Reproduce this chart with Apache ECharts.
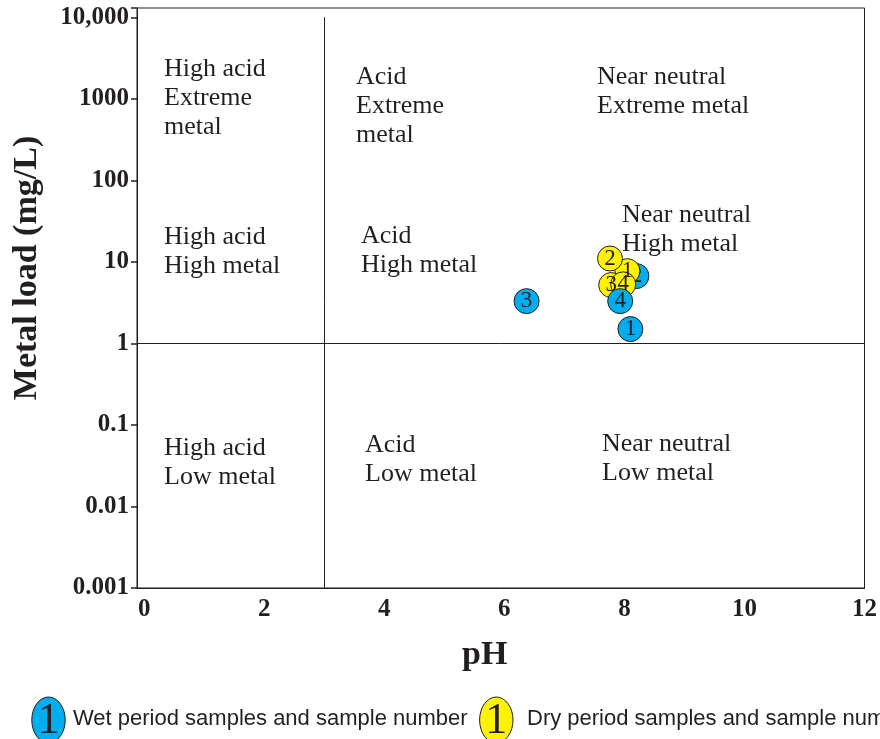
<!DOCTYPE html>
<html><head><meta charset="utf-8">
<script src="https://cdn.jsdelivr.net/npm/echarts@6/dist/echarts.min.js"></script>
<style>html,body{margin:0;padding:0;background:#fff}#c{width:880px;height:739px}</style>
</head><body><div id="c"></div>
<script>
// ---- data ----
const wetSampleIds = [1, 2, 3, 4];
const wetPH = [8.1, 8.2, 6.37, 7.93];
const wetMetal = [1.5, 6.7, 3.3, 3.3];
const drySampleIds = [1, 2, 3, 4];
const dryPH = [8.05, 7.76, 7.78, 7.98];
const dryMetal = [7.7, 11, 5.2, 5.3];
const xTickValues = [0, 2, 4, 6, 8, 10, 12];
const yTickExponents = [-3, -2, -1, 0, 1, 2, 3, 4];
const yTickLabels = ['0.001', '0.01', '0.1', '1', '10', '100', '1000', '10,000'];
const phBoundary = 3;
const metalBoundary = 1;
const quadrantTexts = [
  'High acid\nExtreme\nmetal', 'Acid\nExtreme\nmetal', 'Near neutral\nExtreme metal',
  'High acid\nHigh metal', 'Acid\nHigh metal', 'Near neutral\nHigh metal',
  'High acid\nLow metal', 'Acid\nLow metal', 'Near neutral\nLow metal'
];
const legendTexts = ['Wet period samples and sample number', 'Dry period samples and sample number'];

// ---- layout (pixels) ----
const quadrantAnchors = [[164, 69], [356, 77], [597, 77], [164, 237], [361, 236], [622, 215], [164, 448], [365, 445], [602, 444]];
const INK = '#231f20';
const BLUE = '#00aeef';
const YELLOW = '#fff200';
const SERIF = '"Liberation Serif", "Times New Roman", serif';
const SANS = '"Liberation Sans", Arial, sans-serif';

function items(ph, metal, ids) {
  return ids.map((id, i) => ({ name: String(id), value: [ph[i], metal[i]] }));
}
const wetItems = items(wetPH, wetMetal, wetSampleIds);
const dryItems = items(dryPH, dryMetal, drySampleIds);

function scatter(name, data, color, z, extra) {
  return Object.assign({
    name, type: 'scatter', data, z,
    symbol: 'circle', symbolSize: 25,
    itemStyle: { color, borderColor: INK, borderWidth: 1, opacity: 1 },
    label: { show: true, position: 'inside', formatter: '{b}', color: INK,
             fontFamily: SERIF, fontSize: 23 },
    emphasis: { disabled: true },
    animation: false
  }, extra || {});
}

const graphics = [];
quadrantTexts.forEach((t, i) => {
  graphics.push({
    type: 'text', left: quadrantAnchors[i][0], top: quadrantAnchors[i][1] - 14.5, silent: true,
    style: { text: t, fill: INK, font: '26px ' + SERIF, lineHeight: 29 }
  });
});
// legend
const legendIcons = [[48.5, 720, BLUE], [496.3, 720, YELLOW]];
const legendTextX = [73, 527];
legendIcons.forEach((ic, i) => {
  graphics.push({ type: 'ellipse', silent: true, shape: { cx: ic[0], cy: ic[1], rx: 16.7, ry: 23 },
    style: { fill: ic[2], stroke: INK, lineWidth: 1 } });
  graphics.push({ type: 'text', silent: true, x: ic[0], y: ic[1] + 1,
    style: { text: '1', fill: INK, font: '44px ' + SERIF, align: 'center', verticalAlign: 'middle' } });
  graphics.push({ type: 'text', silent: true, x: legendTextX[i], y: 719,
    style: { text: legendTexts[i], fill: INK, font: '22px ' + SANS, align: 'left', verticalAlign: 'middle' } });
});

const chart = echarts.init(document.getElementById('c'), null, { renderer: 'canvas' });
chart.setOption({
  animation: false,
  backgroundColor: '#fff',
  grid: { left: 137, right: 14, top: 8, bottom: 151, show: true, borderColor: INK, borderWidth: 1, backgroundColor: 'transparent' },
  xAxis: {
    type: 'value', min: -0.12, max: 12, splitNumber: 6,
    name: 'pH', nameLocation: 'middle', nameGap: 50,
    nameTextStyle: { fontFamily: SERIF, fontWeight: 'bold', fontSize: 34, color: INK, padding: [0, 32, 0, 0] },
    axisLine: { show: true, onZero: false, lineStyle: { color: INK, width: 1 } },
    axisTick: { show: false },
    splitLine: { show: false },
    axisLabel: {
      margin: 9, color: INK, fontFamily: SERIF, fontWeight: 'bold', fontSize: 25,
      formatter: v => { const r = Math.round(v); return (Math.abs(v - r) < 1e-9 && xTickValues.includes(r)) ? String(r) : ''; }
    }
  },
  yAxis: {
    type: 'log', logBase: 10, min: 0.001, max: 13000,
    name: 'Metal load (mg/L)', nameLocation: 'middle', nameGap: 93,
    nameTextStyle: { fontFamily: SERIF, fontWeight: 'bold', fontSize: 34, color: INK, padding: [0, 0, 0, 60] },
    axisLine: { show: true, onZero: false, lineStyle: { color: INK, width: 1 } },
    axisTick: { show: true, inside: false, length: 6, lineStyle: { color: INK, width: 1.5 } },
    splitLine: { show: false },
    minorTick: { show: false },
    axisLabel: {
      margin: 8, color: INK, fontFamily: SERIF, fontWeight: 'bold', fontSize: 25,
      formatter: v => {
        const e = Math.log10(v); const r = Math.round(e);
        if (Math.abs(e - r) > 1e-6) return '';
        const k = yTickExponents.indexOf(r); return k < 0 ? '' : yTickLabels[k];
      }
    }
  },
  graphic: graphics,
  series: [
    scatter('Wet period samples', wetItems.filter(d => d.name === '2'), BLUE, 2, {
      markLine: {
        silent: true, symbol: ['none', 'none'], animation: false,
        label: { show: false }, emphasis: { disabled: true },
        lineStyle: { color: INK, width: 1, type: 'solid' },
        data: [
          [{ coord: [phBoundary, Math.pow(10, yTickExponents[yTickExponents.length - 1])] },
           { coord: [phBoundary, Math.pow(10, yTickExponents[0])] }],
          { yAxis: metalBoundary }
        ]
      }
    }),
    scatter('Dry period samples', dryItems, YELLOW, 3),
    scatter('Wet period samples ', wetItems.filter(d => d.name !== '2'), BLUE, 4)
  ]
});
</script>
</body></html>
